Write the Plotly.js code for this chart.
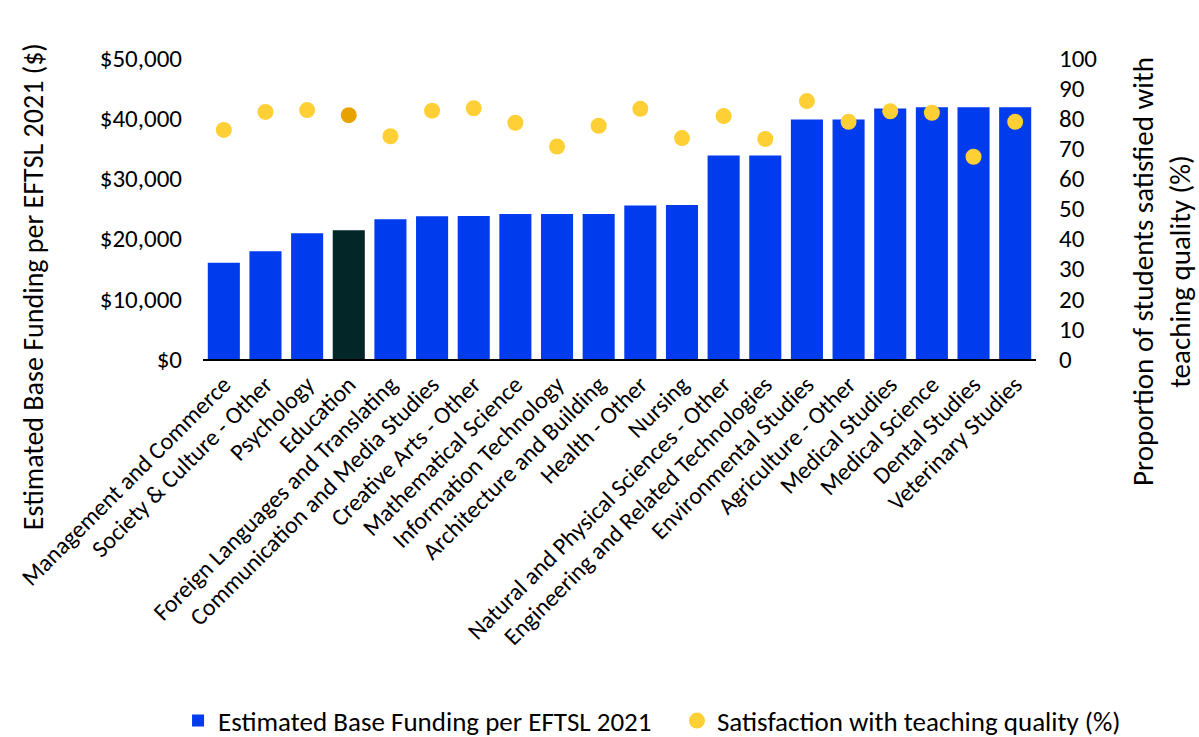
<!DOCTYPE html>
<html>
<head>
<meta charset="utf-8">
<script src="https://cdn.plot.ly/plotly-3.0.1.min.js"></script>
<style>html,body{margin:0;padding:0;background:#fff;}#chart{width:1199px;height:737px;}</style>
</head>
<body>
<div id="chart"></div>
<script>
const categories = [
  "Management and Commerce",
  "Society & Culture - Other",
  "Psychology",
  "Education",
  "Foreign Languages and Translating",
  "Communication and Media Studies",
  "Creative Arts - Other",
  "Mathematical Science",
  "Information Technology",
  "Architecture and Building",
  "Health - Other",
  "Nursing",
  "Natural and Physical Sciences - Other",
  "Engineering and Related Technologies",
  "Environmental Studies",
  "Agriculture - Other",
  "Medical Studies",
  "Medical Science",
  "Dental Studies",
  "Veterinary Studies"
];
const funding = [16000, 17900, 20900, 21400, 23200, 23700, 23750, 24100, 24100, 24100,
                 25500, 25600, 33800, 33800, 39800, 39800, 41600, 41800, 41800, 41800];
const satisfaction = [76.1, 82.1, 82.7, 81.0, 74.0, 82.5, 83.3, 78.5, 70.6, 77.5,
                      83.1, 73.4, 80.7, 73.1, 85.7, 78.8, 82.3, 81.8, 67.2, 78.8];
const highlight = "Education";
const leftTicks = [0, 10000, 20000, 30000, 40000, 50000];
const leftTickLabels = ["$0", "$10,000", "$20,000", "$30,000", "$40,000", "$50,000"];
const rightTicks = [0, 10, 20, 30, 40, 50, 60, 70, 80, 90, 100];

const FONT = "Carlito, Calibri, 'Liberation Sans', sans-serif";
const barColors = categories.map(c => c === highlight ? "#032628" : "#003BEE");
const dotColors = categories.map(c => c === highlight ? "#E8A200" : "#FFD036");

const traces = [
  {
    type: "bar", x: categories, y: funding, name: "Estimated Base Funding per EFTSL 2021",
    marker: {color: barColors, line: {width: 0}}, yaxis: "y", legend: "legend"
  },
  {
    type: "scatter", mode: "markers", x: categories, y: satisfaction,
    name: "Satisfaction with teaching quality (%)",
    marker: {color: dotColors, size: 16, line: {width: 0}}, yaxis: "y2", cliponaxis: false,
    legend: "legend2"
  }
];

const legendFont = {family: FONT, size: 27, color: "#000"};
const layout = {
  width: 1199, height: 737,
  margin: {l: 203, r: 163, t: 58, b: 378},
  paper_bgcolor: "#fff", plot_bgcolor: "#fff",
  font: {family: FONT, size: 24, color: "#000"},
  bargap: 0.23,
  showlegend: true,
  legend: {
    orientation: "h", x: 0.1485, xanchor: "left", xref: "container",
    y: 0.0217, yanchor: "middle", yref: "container", font: legendFont, bgcolor: "rgba(0,0,0,0)"
  },
  legend2: {
    orientation: "h", x: 0.5646, xanchor: "left", xref: "container",
    y: 0.0217, yanchor: "middle", yref: "container", font: legendFont, bgcolor: "rgba(0,0,0,0)"
  },
  xaxis: {
    type: "category", range: [-0.5, categories.length - 0.5], automargin: false,
    tickangle: -45, showline: true, linecolor: "#000", linewidth: 2,
    ticks: "", showgrid: false, zeroline: false,
    tickfont: {family: FONT, size: 24, color: "#000"}
  },
  yaxis: {
    range: [0, 50000], tickvals: leftTicks, ticktext: leftTickLabels, automargin: false,
    showgrid: false, zeroline: false, showline: false, ticks: "",
    ticklabelstandoff: 20,
    tickfont: {family: FONT, size: 25, color: "#000"}
  },
  yaxis2: {
    overlaying: "y", side: "right", range: [0, 100], tickvals: rightTicks, automargin: false,
    showgrid: false, zeroline: false, showline: false, ticks: "",
    ticklabelstandoff: 22,
    tickfont: {family: FONT, size: 25, color: "#000"}
  },
  annotations: [
    {
      text: "Estimated Base Funding per EFTSL 2021 ($)", textangle: -90,
      xref: "paper", yref: "paper", x: -0.204, y: 0.239, xanchor: "center", yanchor: "middle",
      showarrow: false, font: {family: FONT, size: 28, color: "#000"}
    },
    {
      text: "Proportion of students satisfied with<br>teaching quality (%)", textangle: -90,
      xref: "paper", yref: "paper", x: 1.151, y: 0.292, xanchor: "center", yanchor: "middle",
      showarrow: false, font: {family: FONT, size: 29, color: "#000"}
    }
  ]
};

Plotly.newPlot("chart", traces, layout, {displayModeBar: false, staticPlot: true});
</script>
</body>
</html>
